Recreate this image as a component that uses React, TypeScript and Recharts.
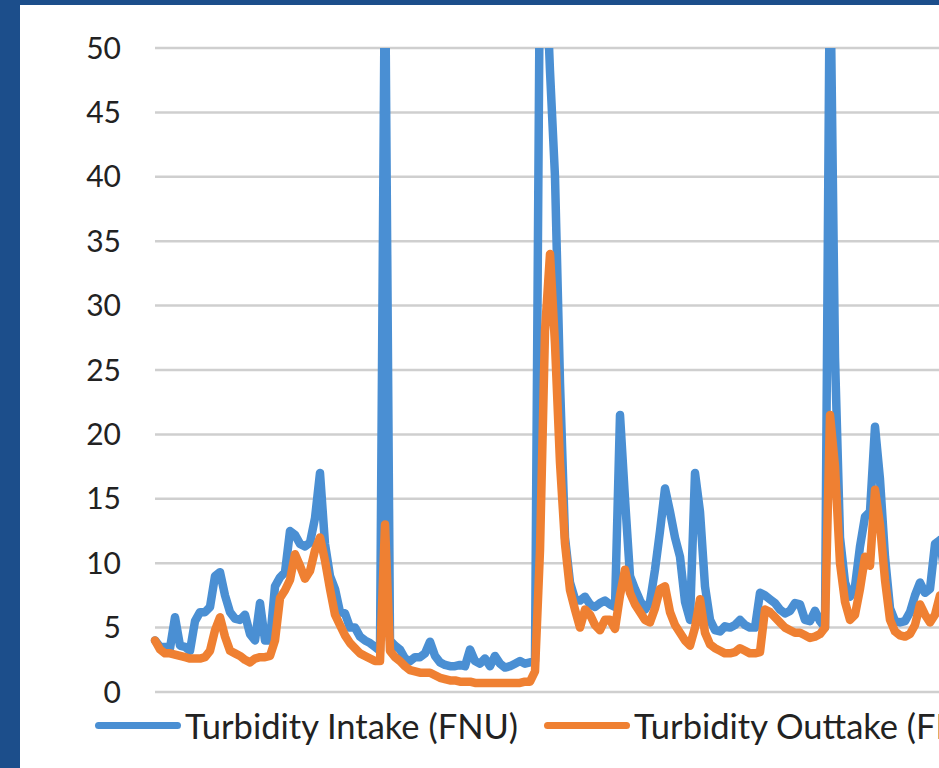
import React from 'react';
import { LineChart, Line, XAxis, YAxis, CartesianGrid, Legend } from 'recharts';

// readings every ~5px along the time axis (FNU)
const intakeFnu = [
  4.0, 3.5, 3.5, 3.4, 5.8, 3.6, 3.5, 3.2, 5.5, 6.2,
  6.2, 6.6, 9.0, 9.3, 7.5, 6.2, 5.7, 5.6, 6.0, 4.5,
  4.0, 6.9, 4.0, 4.0, 8.2, 8.9, 9.3, 12.5, 12.2, 11.5,
  11.3, 11.6, 13.5, 17.0, 11.5, 9.0, 8.0, 6.2, 6.1, 5.0,
  5.0, 4.3, 4.0, 3.8, 3.5, 3.2, 58, 4.0, 3.6, 3.3,
  2.6, 2.4, 2.7, 2.7, 3.0, 3.9, 2.8, 2.3, 2.1, 2.0,
  2.0, 2.1, 2.0, 3.3, 2.4, 2.2, 2.6, 2.0, 2.8, 2.2,
  1.9, 2.0, 2.2, 2.4, 2.2, 2.3, 2.4, 58, 58, 48.2,
  40.0, 24.0, 12.0, 8.5, 7.2, 7.1, 7.4, 6.8, 6.6, 6.9,
  7.1, 6.8, 6.6, 21.5, 15.0, 9.0, 8.0, 7.1, 6.4, 7.0,
  9.5, 12.5, 15.8, 14.0, 12.0, 10.5, 7.0, 5.6, 17.0, 14.0,
  8.2, 5.6, 4.8, 4.7, 5.1, 5.0, 5.2, 5.6, 5.2, 5.0,
  5.0, 7.7, 7.5, 7.2, 6.9, 6.4, 6.1, 6.3, 6.9, 6.8,
  5.6, 5.5, 6.3, 5.5, 5.0, 58, 26.0, 12.0, 8.5, 7.4,
  8.2, 11.3, 13.6, 14.0, 20.6, 16.5, 10.5, 6.5, 5.5, 5.4,
  5.5, 6.2, 7.5, 8.5, 7.7, 8.0, 11.5, 11.8, 9.0, 8.0,
];

const outtakeFnu = [
  4.0, 3.3, 3.0, 3.0, 2.9, 2.8, 2.7, 2.6, 2.6, 2.6,
  2.7, 3.2, 4.8, 5.8, 4.3, 3.2, 3.0, 2.8, 2.5, 2.3,
  2.6, 2.7, 2.7, 2.8, 4.0, 7.3, 7.9, 8.7, 10.7, 9.8,
  8.8, 9.4, 11.0, 12.0, 10.2, 8.0, 6.0, 5.2, 4.4, 3.8,
  3.4, 3.0, 2.8, 2.6, 2.4, 2.4, 13.0, 3.2, 2.7, 2.4,
  2.0, 1.7, 1.6, 1.5, 1.5, 1.5, 1.3, 1.1, 1.0, 0.9,
  0.9, 0.8, 0.8, 0.8, 0.7, 0.7, 0.7, 0.7, 0.7, 0.7,
  0.7, 0.7, 0.7, 0.7, 0.8, 0.8, 1.6, 11.0, 28.0, 34.0,
  27.0, 17.8, 11.5, 7.9, 6.4, 5.0, 6.4, 6.0, 5.2, 4.8,
  5.6, 5.6, 4.9, 7.5, 9.5, 7.7, 6.8, 6.2, 5.6, 5.4,
  6.5, 8.0, 8.2, 6.2, 5.2, 4.6, 4.0, 3.6, 5.0, 7.2,
  4.6, 3.7, 3.4, 3.2, 3.0, 3.0, 3.1, 3.4, 3.2, 3.0,
  3.0, 3.1, 6.4, 6.2, 5.8, 5.4, 5.0, 4.8, 4.6, 4.6,
  4.4, 4.2, 4.3, 4.5, 5.0, 21.5, 17.5, 10.0, 7.0, 5.6,
  6.0, 8.0, 10.5, 9.8, 15.7, 13.0, 8.7, 5.6, 4.7, 4.4,
  4.3, 4.5, 5.2, 6.8, 6.0, 5.4, 6.0, 7.5, 7.0, 6.5,
];

const yTicks = [0, 5, 10, 15, 20, 25, 30, 35, 40, 45, 50];

const seriesNames = ['Turbidity Intake (FNU)', 'Turbidity Outtake (FNU)'];
const BLUE = '#4a8fd3';
const ORANGE = '#ef8032';
const FONT = 'Lato, "Open Sans", sans-serif';

const data = intakeFnu.map((v, i) => ({ idx: i, intake: v, outtake: outtakeFnu[i] }));

const LegendBox = () => (
  <div
    style={{
      display: 'flex',
      alignItems: 'center',
      height: 56,
      boxSizing: 'border-box',
      paddingTop: 10,
      paddingLeft: 75,
      fontFamily: FONT,
      fontSize: 34.5,
      color: '#222',
      whiteSpace: 'nowrap',
    }}
  >
    {[BLUE, ORANGE].map((c, k) => (
      <div key={k} style={{ display: 'flex', alignItems: 'center', marginRight: 26 }}>
        <span style={{ display: 'inline-block', width: 86, height: 7, borderRadius: 3.5, background: c, marginRight: 4 }} />
        <span>{seriesNames[k]}</span>
      </div>
    ))}
  </div>
);

export default function App() {
  return (
    <div style={{ position: 'absolute', left: 0, top: 0, width: 939, height: 768, overflow: 'hidden', background: '#1c4e8b' }}>
      <div style={{ position: 'absolute', left: 20, top: 5, right: 0, bottom: 0, background: '#fff' }}>
        <LineChart width={935} height={763} data={data} margin={{ top: 43, right: 5, left: 0, bottom: 20 }}>
          <CartesianGrid vertical={false} stroke="#cfcfcf" strokeWidth={2.5} />
          <XAxis dataKey="idx" type="number" domain={[0, intakeFnu.length - 1]} hide />
          <YAxis
            domain={[0, 50]}
            ticks={yTicks}
            allowDataOverflow
            width={135}
            axisLine={false}
            tickLine={false}
            tickSize={0}
            tickMargin={34}
            tick={{ fontSize: 30, fill: '#222', fontFamily: FONT }}
          />
          <Legend verticalAlign="bottom" content={<LegendBox />} wrapperStyle={{ left: 0, width: 1100 }} />
          <Line type="linear" dataKey="intake" stroke={BLUE} strokeWidth={8.5} dot={false} isAnimationActive={false} strokeLinejoin="round" strokeLinecap="round" />
          <Line type="linear" dataKey="outtake" stroke={ORANGE} strokeWidth={8.5} dot={false} isAnimationActive={false} strokeLinejoin="round" strokeLinecap="round" />
        </LineChart>
      </div>
    </div>
  );
}
